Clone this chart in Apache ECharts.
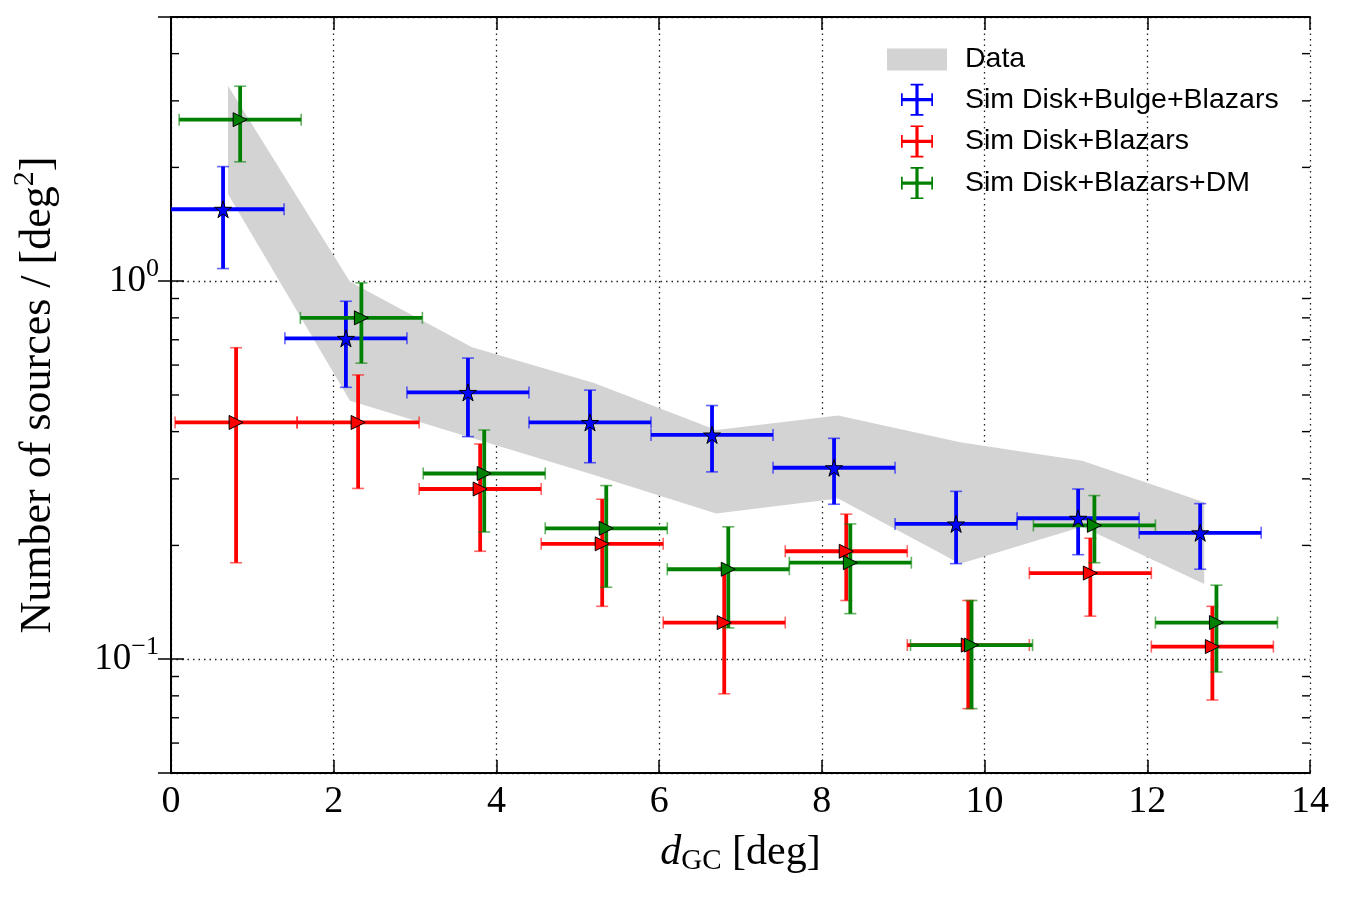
<!DOCTYPE html>
<html>
<head>
<meta charset="utf-8">
<title>Number of sources vs d_GC</title>
<script src="https://cdn.jsdelivr.net/npm/echarts@6/dist/echarts.min.js"></script>
<style>
html, body { margin: 0; padding: 0; background: #fff; }
#chart { width: 1350px; height: 900px; }
</style>
</head>
<body>
<div id="chart"></div>
<script>
// gray "Data" band
var bandX = [0.7, 2.2, 3.7, 5.2, 6.7, 8.2, 9.7, 11.2, 12.7];
var bandUpper = [3.29, 0.996, 0.669, 0.538, 0.404, 0.441, 0.375, 0.335, 0.260];
var bandLower = [1.70, 0.483, 0.385, 0.307, 0.243, 0.266, 0.179, 0.224, 0.158];

// Sim Disk+Bulge+Blazars
var blueX = [0.64, 2.15, 3.65, 5.15, 6.65, 8.15, 9.65, 11.15, 12.65];
var blueY = [1.55, 0.706, 0.508, 0.423, 0.392, 0.321, 0.228, 0.236, 0.216];
var blueLo = [1.08, 0.524, 0.388, 0.331, 0.313, 0.257, 0.179, 0.189, 0.173];
var blueHi = [2.01, 0.885, 0.626, 0.515, 0.469, 0.384, 0.278, 0.282, 0.258];

// Sim Disk+Blazars
var redX = [0.80, 2.30, 3.80, 5.30, 6.80, 8.30, 9.80, 11.30, 12.80];
var redY = [0.423, 0.423, 0.282, 0.202, 0.125, 0.193, 0.109, 0.169, 0.108];
var redLo = [0.180, 0.283, 0.193, 0.138, 0.081, 0.143, 0.074, 0.130, 0.078];
var redHi = [0.667, 0.565, 0.371, 0.265, 0.175, 0.242, 0.143, 0.209, 0.138];

// Sim Disk+Blazars+DM
var greenX = [0.85, 2.34, 3.85, 5.35, 6.85, 8.35, 9.84, 11.35, 12.85];
var greenY = [2.675, 0.80, 0.310, 0.222, 0.173, 0.180, 0.109, 0.226, 0.125];
var greenLo = [2.07, 0.607, 0.217, 0.155, 0.121, 0.132, 0.074, 0.180, 0.0925];
var greenHi = [3.28, 0.99, 0.404, 0.288, 0.224, 0.228, 0.143, 0.271, 0.157];

var xHalf = 0.75;
var yMinorTicks = [0.06, 0.07, 0.08, 0.09, 0.2, 0.3, 0.4, 0.5, 0.6, 0.7, 0.8, 0.9, 2, 3, 4];

var serif = 'Liberation Serif';
var sans = 'Liberation Sans';

function errRows(xs, ys, lo, hi) {
	var rows = [];
	for (var i = 0; i < xs.length; i++) {
		rows.push([xs[i], ys[i], xs[i] - xHalf, xs[i] + xHalf, lo[i], hi[i]]);
	}
	return rows;
}

function errorBars(color) {
	return function (params, api) {
		var x = api.value(0), y = api.value(1);
		var l = api.coord([api.value(2), y]);
		var r = api.coord([api.value(3), y]);
		var b = api.coord([x, api.value(4)]);
		var t = api.coord([x, api.value(5)]);
		var cap = 6;
		var bar = { stroke: color, lineWidth: 3.8 };
		var capStyle = { stroke: color, lineWidth: 1.6, opacity: 0.6 };
		return {
			type: 'group',
			children: [
				{ type: 'line', shape: { x1: l[0], y1: l[1], x2: r[0], y2: r[1] }, style: bar },
				{ type: 'line', shape: { x1: t[0], y1: t[1], x2: b[0], y2: b[1] }, style: bar },
				{ type: 'line', shape: { x1: t[0] - cap, y1: t[1], x2: t[0] + cap, y2: t[1] }, style: capStyle },
				{ type: 'line', shape: { x1: b[0] - cap, y1: b[1], x2: b[0] + cap, y2: b[1] }, style: capStyle },
				{ type: 'line', shape: { x1: l[0], y1: l[1] - cap, x2: l[0], y2: l[1] + cap }, style: capStyle },
				{ type: 'line', shape: { x1: r[0], y1: r[1] - cap, x2: r[0], y2: r[1] + cap }, style: capStyle }
			]
		};
	};
}

function pts(xs, ys) {
	return xs.map(function (x, i) { return [x, ys[i]]; });
}

var starPath = 'path://M50,0L61,35L98,35L68,57L79,91L50,70L21,91L32,57L2,35L39,35Z';
var crossIcon = 'path://M13.5,0H16.5V13.5H30V16.5H16.5V30H13.5V16.5H0V13.5H13.5Z' +
	'M9,0H21V1.6H9ZM9,28.4H21V30H9ZM0,9H1.6V21H0ZM28.4,9H30V21H28.4Z';

var series = [];

series.push({
	name: 'Data',
	type: 'custom',
	silent: true,
	clip: true,
	itemStyle: { color: '#d3d3d3' },
	data: bandX.map(function (x, i) { return [x, bandLower[i], bandUpper[i]]; }),
	renderItem: function (params, api) {
		if (params.dataIndex !== 0) return null;
		var poly = [];
		for (var i = 0; i < bandX.length; i++) poly.push(api.coord([bandX[i], bandUpper[i]]));
		for (var j = bandX.length - 1; j >= 0; j--) poly.push(api.coord([bandX[j], bandLower[j]]));
		return { type: 'polygon', shape: { points: poly }, style: { fill: '#d3d3d3' } };
	}
});

var groups = [
	{ name: 'Sim Disk+Bulge+Blazars', color: '#0000ff', rows: errRows(blueX, blueY, blueLo, blueHi), pts: pts(blueX, blueY), symbol: starPath, size: 17, rot: 0 },
	{ name: 'Sim Disk+Blazars', color: '#ff0000', rows: errRows(redX, redY, redLo, redHi), pts: pts(redX, redY), symbol: 'triangle', size: 14, rot: -90 },
	{ name: 'Sim Disk+Blazars+DM', color: '#008000', rows: errRows(greenX, greenY, greenLo, greenHi), pts: pts(greenX, greenY), symbol: 'triangle', size: 14, rot: -90 }
];

groups.forEach(function (g) {
	series.push({
		name: g.name,
		type: 'custom',
		silent: true,
		clip: true,
		itemStyle: { color: g.color },
		encode: { x: 0, y: 1 },
		data: g.rows,
		renderItem: errorBars(g.color)
	});
	series.push({
		name: g.name,
		type: 'scatter',
		silent: true,
		symbol: g.symbol,
		symbolSize: g.size,
		symbolRotate: g.rot,
		itemStyle: { color: g.color, borderColor: '#000', borderWidth: 1, opacity: 1 },
		data: g.pts
	});
});

// minor ticks of the log axis, left and right
series.push({
	type: 'custom',
	silent: true,
	clip: false,
	encode: { x: 0, y: 1 },
	data: yMinorTicks.map(function (v) { return [0, v]; }),
	renderItem: function (params, api) {
		var a = api.coord([0, api.value(1)]);
		var b = api.coord([14, api.value(1)]);
		var st = { stroke: '#000', lineWidth: 1.4 };
		return {
			type: 'group',
			children: [
				{ type: 'line', shape: { x1: a[0], y1: a[1], x2: a[0] + 8, y2: a[1] }, style: st },
				{ type: 'line', shape: { x1: b[0] - 8, y1: b[1], x2: b[0], y2: b[1] }, style: st }
			]
		};
	}
});

var gridLine = { show: true, lineStyle: { color: '#222', width: 1.3, type: [1.5, 4] } };
var tick = { show: true, inside: true, length: 13, lineStyle: { color: '#000', width: 1.5 } };
var line = { show: true, lineStyle: { color: '#000', width: 2 } };

function isDecade(v) {
	var l = Math.log(v) / Math.LN10;
	return Math.abs(l - Math.round(l)) < 1e-6;
}

var myChart = echarts.init(document.getElementById('chart'));
var option = {
	animation: false,
	backgroundColor: '#fff',
	grid: { left: 171, right: 40, top: 17, bottom: 127 },
	legend: {
		orient: 'vertical',
		left: 882,
		top: 40,
		itemWidth: 60,
		itemHeight: 32,
		itemGap: 9.7,
		selectedMode: false,
		textStyle: { fontFamily: sans, fontSize: 28.5, color: '#000', padding: [0, 0, 0, 13] },
		data: [
			{ name: 'Data', icon: 'path://M0,0H60V22H0Z', itemStyle: { color: '#d3d3d3', borderWidth: 0 } },
			{ name: 'Sim Disk+Bulge+Blazars', icon: crossIcon, itemStyle: { color: '#0000ff', borderWidth: 0 } },
			{ name: 'Sim Disk+Blazars', icon: crossIcon, itemStyle: { color: '#ff0000', borderWidth: 0 } },
			{ name: 'Sim Disk+Blazars+DM', icon: crossIcon, itemStyle: { color: '#008000', borderWidth: 0 } }
		]
	},
	xAxis: [{
		type: 'value',
		min: 0,
		max: 14,
		interval: 2,
		position: 'bottom',
		axisLine: line,
		axisTick: tick,
		splitLine: gridLine,
		axisLabel: { fontFamily: serif, fontSize: 38, color: '#000', margin: 10 },
		name: '{i|d}{s|GC}{n| [deg]}',
		nameLocation: 'middle',
		nameGap: 56,
		nameTextStyle: {
			rich: {
				i: { fontFamily: serif, fontStyle: 'italic', fontSize: 42, color: '#000' },
				s: { fontFamily: serif, fontSize: 29, color: '#000', padding: [18, 0, 0, 0] },
				n: { fontFamily: serif, fontSize: 42, color: '#000' }
			}
		}
	}, {
		type: 'value',
		min: 0,
		max: 14,
		interval: 2,
		position: 'top',
		axisLine: line,
		axisTick: tick,
		splitLine: { show: false },
		axisLabel: { show: false }
	}],
	yAxis: [{
		type: 'log',
		logBase: 10,
		min: 0.05,
		max: 5,
		position: 'left',
		axisLine: line,
		axisTick: tick,
		splitLine: gridLine,
		axisLabel: {
			margin: 12,
			formatter: function (v) {
				if (!isDecade(v)) return '';
				return '{b|10}{s|' + Math.round(Math.log(v) / Math.LN10).toString().replace('-', '\u2212') + '}';
			},
			rich: {
				b: { fontFamily: serif, fontSize: 37, color: '#000' },
				s: { fontFamily: serif, fontSize: 26, color: '#000', padding: [0, 0, 24, 0] }
			}
		},
		name: '{n|Number of sources / [deg}{s|2}{n|]}',
		nameLocation: 'middle',
		nameGap: 104,
		nameRotate: 90,
		nameTextStyle: {
			rich: {
				n: { fontFamily: serif, fontSize: 44, color: '#000' },
				s: { fontFamily: serif, fontSize: 30, color: '#000', padding: [0, 0, 27, 0] }
			}
		}
	}, {
		type: 'log',
		logBase: 10,
		min: 0.05,
		max: 5,
		position: 'right',
		axisLine: line,
		axisTick: tick,
		splitLine: { show: false },
		axisLabel: { show: false }
	}],
	series: series
};
myChart.setOption(option);
</script>
</body>
</html>
